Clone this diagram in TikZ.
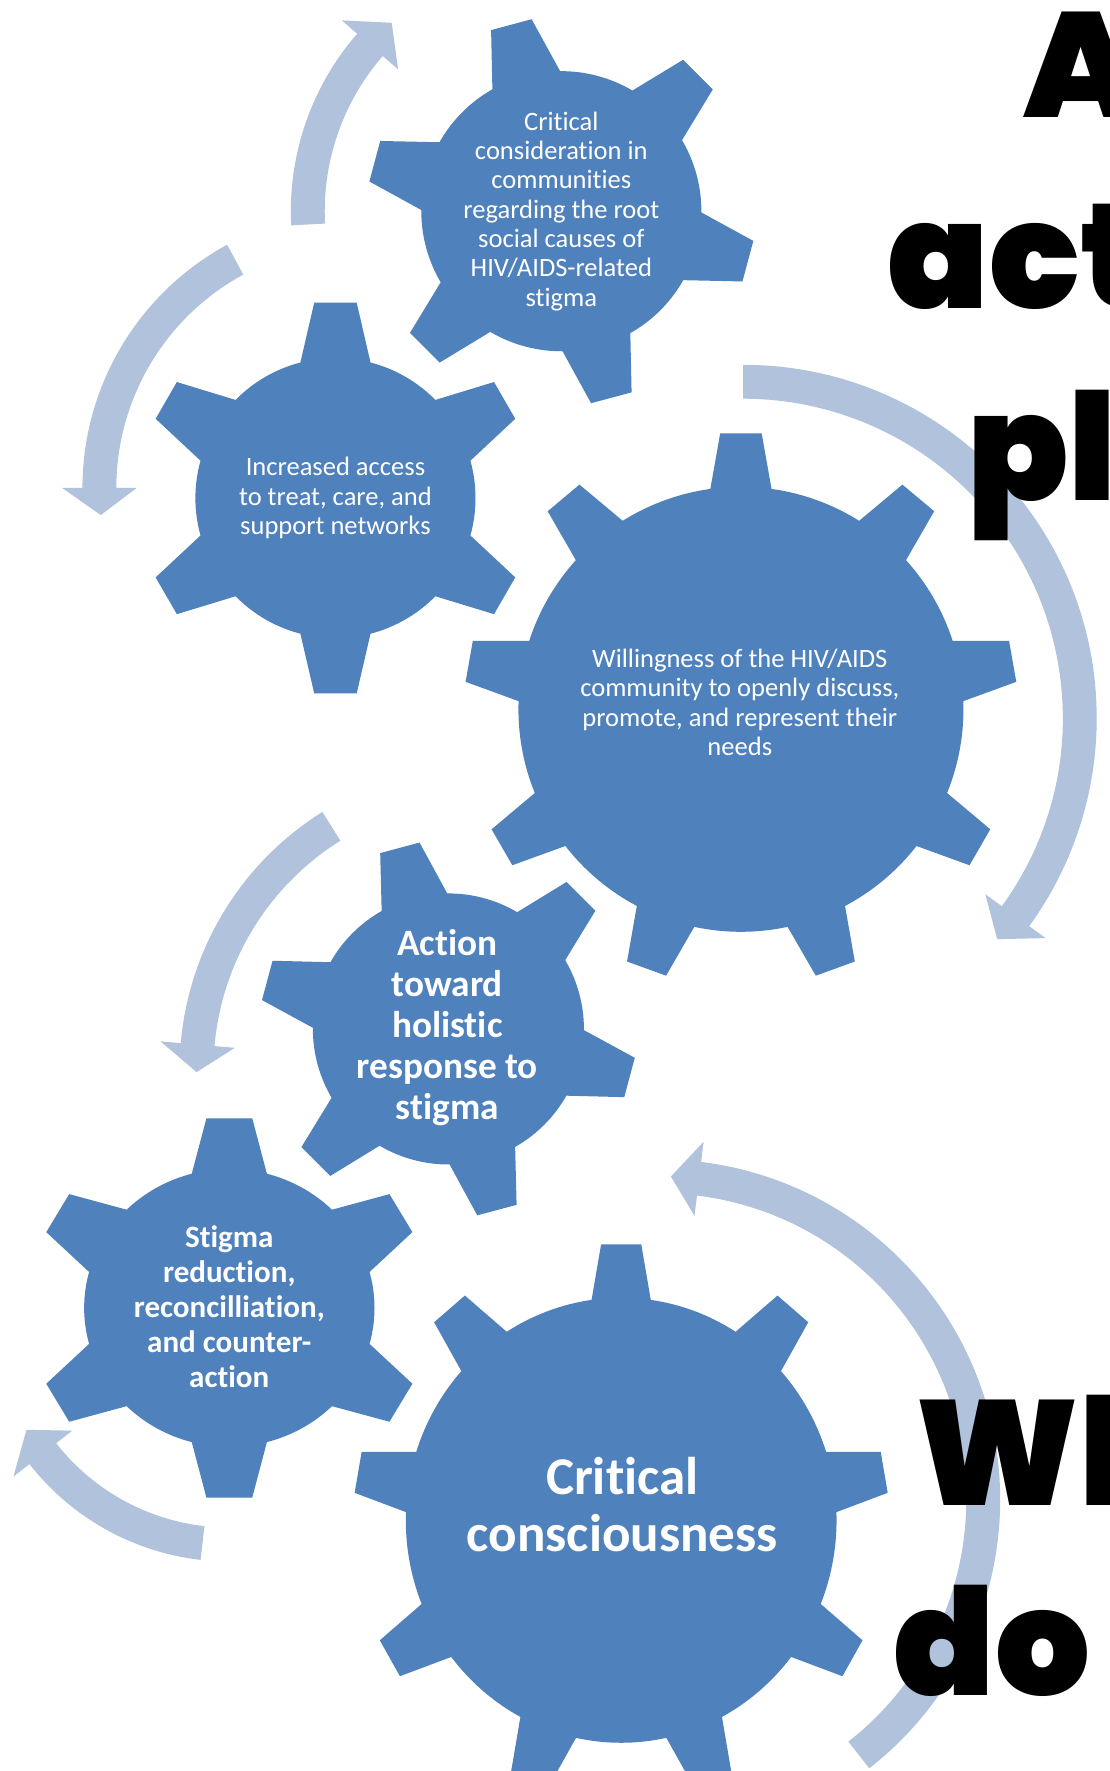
\documentclass[tikz,border=0pt]{standalone}
\usepackage{fontspec}
\setmainfont{Carlito}[Ligatures={NoCommon}]
\newfontfamily\heavyfont{Poppins Black}
\usetikzlibrary{calc}
\definecolor{gearblue}{RGB}{79,129,189}
\definecolor{arrowblue}{RGB}{176,194,220}
\tikzset{
  gtext/.style={text=white, align=center, inner sep=0pt},
  bigword/.style={anchor=base west, inner sep=0pt, text=black, font=\heavyfont\fontsize{132}{132}\selectfont}
}
% #1 centre, #2 teeth, #3 body radius, #4 outer radius, #5 phase, #6 half angle at base, #7 half angle at tip
\newcommand{\drawgear}[7]{%
  \pgfmathsetmacro{\gstep}{360/#2}%
  \fill[gearblue] ($(#1)+({#5-#6}:#3)$)
  \foreach \k in {1,...,#2}{
    -- ($(#1)+({#5+(\k-1)*\gstep-#7}:#4)$)
    -- ($(#1)+({#5+(\k-1)*\gstep+#7}:#4)$)
    -- ($(#1)+({#5+(\k-1)*\gstep+#6}:#3)$)
    arc[start angle={#5+(\k-1)*\gstep+#6}, end angle={#5+\k*\gstep-#6}, radius=#3]
  } -- cycle;
}
% #1 centre, #2 mid radius, #3 tail angle, #4 head base angle, #5 tip angle
\newcommand{\drawcarrow}[5]{%
  \pgfmathsetmacro{\ro}{#2+15}\pgfmathsetmacro{\ri}{#2-15}%
  \pgfmathsetmacro{\rfo}{#2+33}\pgfmathsetmacro{\rfi}{#2-33}%
  \fill[arrowblue] ($(#1)+(#3:\ro)$) arc[start angle=#3, end angle=#4, radius=\ro]
    -- ($(#1)+(#4:\rfo)$) -- ($(#1)+(#5:#2)$) -- ($(#1)+(#4:\rfi)$) -- ($(#1)+(#4:\ri)$)
    arc[start angle=#4, end angle=#3, radius=\ri] -- cycle;
}
\begin{document}
\begin{tikzpicture}[x=1pt,y=-1pt]
\useasboundingbox (0,0) rectangle (982,1568);
\clip (0,0) rectangle (982,1568);
\fill[white] (0,0) rectangle (982,1568);

% arrow centres
\coordinate (c1) at (497,187);
\coordinate (c2) at (318,432);
\coordinate (c3) at (658,636);
\coordinate (c4) at (428,947);
\coordinate (c5) at (203,1158);
\coordinate (c6) at (584,1328);

\drawcarrow{c1}{224.5}{-183}{-139}{-132}
\drawcarrow{c2}{230}{-118.5}{-180}{-186}
\drawcarrow{c3}{298}{-90}{36}{41}
\drawcarrow{c4}{254}{-122}{-175}{-180.5}
\drawcarrow{c5}{209.5}{-263.5}{-218}{-211}
\drawcarrow{c6}{286.5}{52}{-83}{-88}

% gear centres
\coordinate (gA) at (497,187);
\coordinate (gI) at (297,441);
\coordinate (gW) at (656,628);
\coordinate (gH) at (397,911);
\coordinate (gS) at (203,1158);
\coordinate (gC) at (550,1346);

\drawgear{gA}{6}{124}{172}{-45}{14.5}{6.2}
\drawgear{gI}{6}{124}{174}{-90}{14.5}{6.2}
\drawgear{gW}{9}{197}{245}{-90}{7.9}{4.3}
\drawgear{gH}{6}{120}{167}{-45}{14.5}{6.2}
\begin{scope}[xscale=1.045]
\drawgear{gS}{6}{123}{169}{-90}{15}{6.6}
\end{scope}
\begin{scope}[xscale=0.968]
\drawgear{gC}{9}{197}{245}{-90}{7.9}{4.3}
\end{scope}

\node[gtext, font=\fontsize{23.5}{26}\selectfont] (tA) at (497,187)
  {Critical\\consideration in\\communities\\regarding the root\\social causes of\\HIV/AIDS-related\\stigma};
\node[gtext, font=\fontsize{23.5}{26}\selectfont] (tI) at (297,441)
  {Increased access\\to treat, care, and\\support networks};
\node[gtext, font=\fontsize{23.5}{26}\selectfont] (tW) at (655,622)
  {Willingness of the HIV/AIDS\\community to openly discuss,\\promote, and represent their\\needs};
\node[gtext, font=\bfseries\fontsize{33}{36.3}\selectfont] (tH) at (396,910)
  {Action\\toward\\holistic\\response to\\stigma};
\node[gtext, font=\bfseries\fontsize{27.5}{31}\selectfont] (tS) at (203,1157)
  {Stigma\\reduction,\\reconcilliation,\\and counter-\\action};
\node[gtext, font=\bfseries\fontsize{47}{51}\selectfont] (tC) at (551,1332)
  {Critical\\consciousness};

\node[bigword] (w1) at (906,104) {A};
\node[bigword] (w2) at (786,273) {act};
\node[bigword] (w3) at (856,443) {pl};
\node[bigword] (w4) at (810,1333) {Wh};
\node[bigword] (w5) at (791,1501) {do};
\end{tikzpicture}
\end{document}
